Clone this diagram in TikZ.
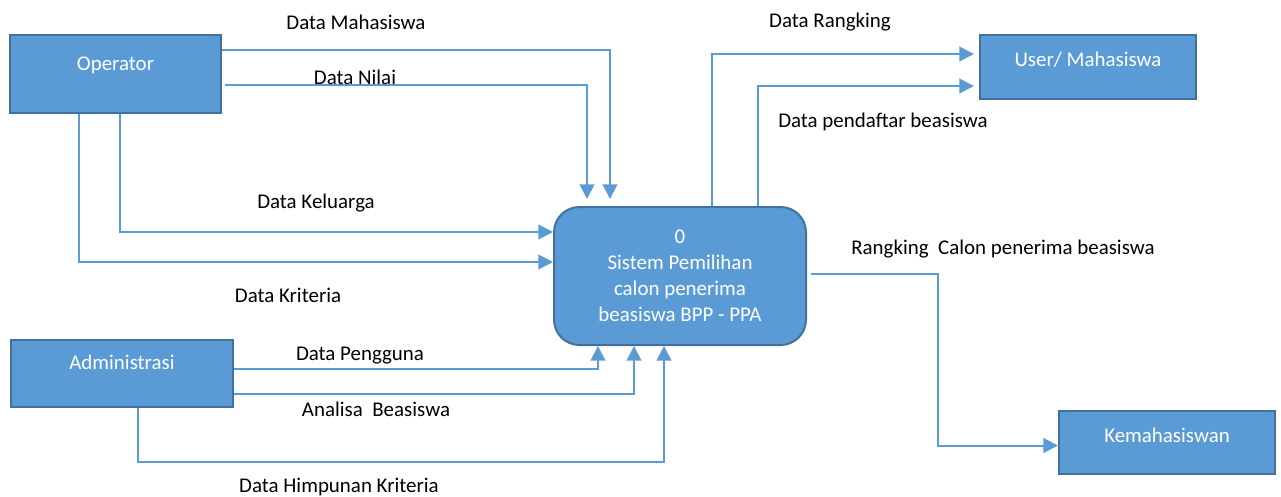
\documentclass[tikz,border=0pt]{standalone}
\usepackage{fontspec}
\setmainfont{Carlito}
\usetikzlibrary{arrows.meta}
\definecolor{boxblue}{RGB}{91, 155, 213}
\definecolor{edgeblue}{RGB}{65, 113, 156}
\tikzstyle{entity} = [rectangle, draw=edgeblue, fill=boxblue, line width=1.5pt, text=white, text centered, text height=11pt]
\tikzstyle{process} = [rectangle, rounded corners=19pt, draw=edgeblue, fill=boxblue, line width=1.5pt, text=white, align=center, minimum width=189pt, minimum height=103.5pt]
\tikzstyle{flow} = [draw=boxblue, line width=1.5pt, -{Triangle[length=11pt,width=11pt]}]
\tikzstyle{flowlabel} = [text=black, text centered]

\begin{document}
\begin{tikzpicture}[x=0.75pt, y=-0.75pt, every node/.style={font=\fontsize{15.7}{19.5}\selectfont}]
        \useasboundingbox (0,0) rectangle (1281,496);

        % External entities
        \node (op) at (115.5,74) [entity, minimum width=158.25pt, minimum height=58.5pt, text depth=16pt] {Operator};
        \node (adm) at (122,373.5) [entity, minimum width=166.5pt, minimum height=50.25pt, text depth=16.5pt] {Administrasi};
        \node (user) at (1088,67) [entity, minimum width=162pt, minimum height=48pt, text depth=11.5pt] {User/ Mahasiswa};
        \node (kem) at (1167,442.5) [entity, minimum width=162pt, minimum height=47.25pt, text depth=11pt] {Kemahasiswan};

        % Process
        \node (proc) at (680,276) [process] {0\\Sistem Pemilihan\\calon penerima\\beasiswa BPP - PPA};

        % Flows from Operator
        \draw [flow] ([shift={(0,-24)}]op.east) -| ([shift={(-70,-7)}]proc.north);
        \draw [flow] ([shift={(3,11)}]op.east) -| ([shift={(-93,-7)}]proc.north);
        \draw [flow] ([shift={(4.5,0)}]op.south) |- ([shift={(0,-44)}]proc.west);
        \draw [flow] ([shift={(-36.5,0)}]op.south) |- ([shift={(0,-14)}]proc.west);

        % Flows to User/ Mahasiswa
        \draw [flow] ([shift={(32,0)}]proc.north) |- ([shift={(-5,-13)}]user.west);
        \draw [flow] ([shift={(78,0)}]proc.north) |- ([shift={(-5,19)}]user.west);

        % Flow to Kemahasiswan
        \draw [flow] ([shift={(4,-2)}]proc.east) -- ++(127,0) |- ([shift={(0,3)}]kem.west);

        % Flows from Administrasi
        \draw [flow] ([shift={(0,-4.5)}]adm.east) -| ([shift={(-82,0)}]proc.south);
        \draw [flow] ([shift={(0,20.5)}]adm.east) -| ([shift={(-46,0)}]proc.south);
        \draw [flow] ([shift={(16,0)}]adm.south) -- ++(0,54) -| ([shift={(-16,0)}]proc.south);

        % Labels
        \node (lmhs) at (356,22) [flowlabel] {Data Mahasiswa};
        \node (lnilai) at (355,77) [flowlabel] {Data Nilai};
        \node (lkel) at (316,203) [flowlabel] {Data Keluarga};
        \node (lkrit) at (288,295) [flowlabel] {Data Kriteria};
        \node (lrank) at (830,22) [flowlabel] {Data Rangking};
        \node (ldaftar) at (883,122) [flowlabel] {Data pendaftar beasiswa};
        \node (lcalon) at (1003,249) [flowlabel] {Rangking\ \ Calon penerima beasiswa};
        \node (lpeng) at (360,356) [flowlabel] {Data Pengguna};
        \node (lanal) at (376,409) [flowlabel] {Analisa\ \ Beasiswa};
        \node (lhimp) at (339,487) [flowlabel] {Data Himpunan Kriteria};
\end{tikzpicture}
\end{document}
